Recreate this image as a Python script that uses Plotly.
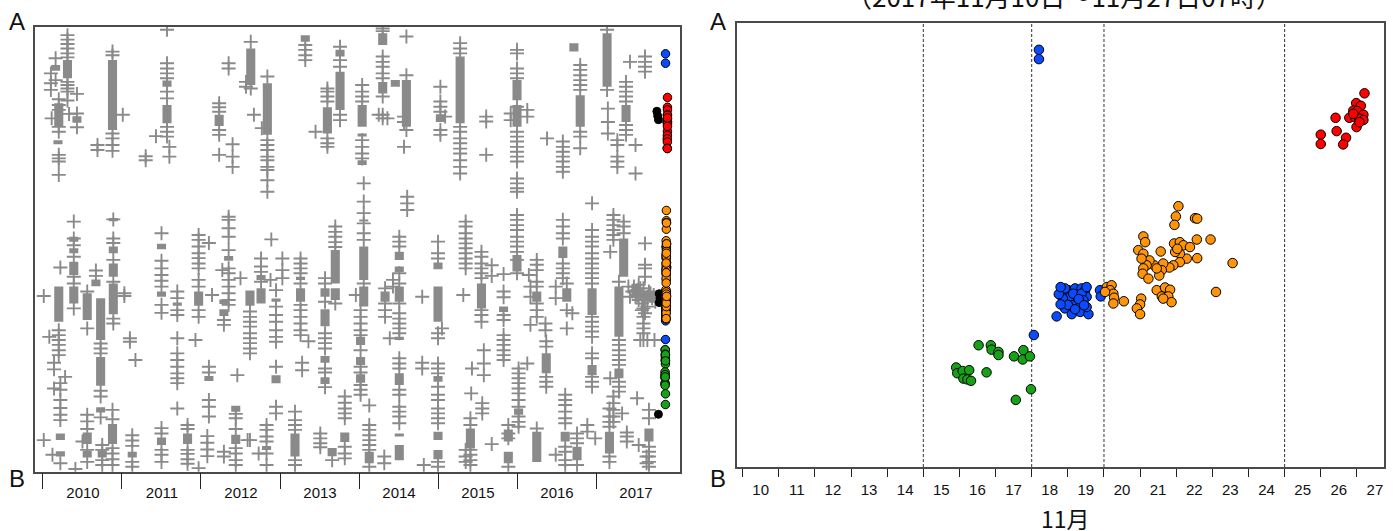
import plotly.graph_objects as go

# ---------------- Left panel: 2010-2017 (A-B level vs year) ----------------
year_ticks = [2010, 2011, 2012, 2013, 2014, 2015, 2016, 2017]
year_labels = ["2010", "2011", "2012", "2013", "2014", "2015", "2016", "2017"]

# gray "+" events: one entry per column (year) with the levels of its crosses
cross_year = [
    2010.16, 2010.10, 2010.31, 2010.43, 2010.20, 2010.11, 2010.33, 2010.88, 2011.01, 2010.69,
    2011.57, 2011.43, 2011.60, 2011.30, 2012.23, 2012.40, 2012.35, 2012.57,
    2010.39, 2010.22, 2010.20, 2010.01, 2010.08, 2010.14, 2010.28, 2010.22, 2010.12, 2010.41,
    2010.56, 2010.67, 2010.73, 2010.88, 2010.89, 2011.03, 2011.10, 2011.17, 2010.56, 2010.50,
    2010.75, 2010.88, 2011.13, 2011.50, 2011.70, 2011.83, 2011.97, 2011.93, 2012.10, 2012.08,
    2012.35, 2012.27, 2012.50, 2012.14, 2012.29, 2012.44, 2012.46, 2012.59,
    2012.63, 2012.62, 2012.84, 2012.77, 2012.67, 2012.76, 2012.89, 2013.03, 2012.95, 2012.88,
    2012.83, 2012.73, 2013.26, 2013.36, 2013.28, 2013.19, 2013.32, 2013.60, 2013.45, 2013.76,
    2013.57, 2013.70, 2013.51, 2013.66, 2013.82, 2014.04, 2014.06, 2014.02, 2013.96, 2014.13,
    2014.30, 2014.25, 2014.36, 2014.60, 2014.57, 2014.61, 2014.33, 2014.39, 2014.51, 2014.43,
    2014.32, 2014.80, 2015.00, 2015.05, 2014.82, 2015.03, 2015.09,
    2015.28, 2015.35, 2015.32, 2015.61, 2015.55, 2015.68, 2015.83, 2015.58, 2015.43, 2015.42,
    2015.56, 2015.41, 2016.00, 2015.92, 2016.13, 2016.02, 2015.89, 2016.25, 2016.17, 2016.36,
    2016.15, 2016.37, 2016.58, 2016.63, 2016.49, 2016.70, 2016.61, 2016.76, 2016.89, 2016.99,
    2016.80, 2016.38, 2016.95, 2017.14, 2017.15, 2017.27, 2017.38, 2017.43, 2017.62, 2017.50,
    2017.22, 2017.18, 2017.35, 2017.29, 2017.60, 2017.56, 2017.65, 2017.74, 2017.62, 2017.52,
    2017.33, 2017.17, 2017.39, 2017.67, 2017.54, 2017.64,
]
cross_levels = [
    [92.9, 88.0], [89.5, 87.3, 85.8], [98.1, 97.1, 96.1, 95.1, 94.0, 93.1, 87.6, 86.9, 86.1, 85.4, 83.4],
    [84.9, 80.5, 77.4], [83.7, 82.4, 81.3, 77.5, 76.4, 71.2, 70.4, 69.7, 66.7], [79.4], [80.4],
    [94.4, 93.6, 76.0, 74.9, 73.4, 72.1], [80.2], [73.4, 72.3],
    [99.3, 91.8, 90.6, 89.5, 88.4, 85.4, 83.9, 77.5, 76.4, 75.3], [75.4], [73.0, 70.8], [70.9, 70.0],
    [82.8, 81.9, 80.9, 76.8, 75.7, 71.2], [73.6, 70.8, 68.5], [91.8, 90.6], [87.6, 86.5],
    [56.2, 52.4, 50.9, 48.3, 43.8, 42.3, 36.7], [45.9], [31.8, 30.7, 29.6, 28.5, 27.3, 26.2],
    [39.5, 7.1], [30.3], [24.5, 23.0, 18.7], [21.3], [19.9, 18.4, 16.1, 14.3, 12.8, 11.6, 1.9], [3.8], [0.6],
    [40.5, 32.2], [45.2, 44.0], [28.8, 27.7, 26.6, 18.2, 16.9, 12.2], [13.9],
    [56.7, 52.4, 51.4, 47.6, 42.7, 34.4, 33.3], [40.1, 39.5], [30.0, 29.2], [25.1],
    [12.8, 11.3, 9.6, 4.9, 2.2], [6.8],
    [6.0, 4.9, 2.6, 1.5], [11.8, 5.3, 4.1, 2.8, 1.5], [8.2, 7.0, 5.8, 2.2, 1.1],
    [53.6, 47.4, 45.7, 44.2, 42.9, 41.6, 37.5, 35.7, 9.8, 8.6, 4.9, 3.8, 2.2],
    [40.5, 39.0, 36.3, 35.2, 30.0, 26.6, 25.1, 23.6, 22.1, 21.0, 19.9, 14.2],
    [10.5, 9.6, 4.9, 4.0, 2.8, 1.8],
    [0.8, 53.2, 52.1, 50.6, 49.1, 48.0, 46.8, 45.7, 43.1, 41.6, 36.3, 34.8], [29.6],
    [51.4, 23.6, 22.3, 16.1, 14.6, 12.4], [8.0, 6.5, 5.0, 3.5],
    [57.3, 56.6, 54.7, 52.8, 49.8, 45.7, 44.6, 43.1, 41.6, 40.1, 38.6, 37.5], [45.3], [43.5], [39.7],
    [34.1, 33.0, 4.5, 3.4], [13.0, 12.0, 9.6, 5.3, 4.1, 2.6, 1.5], [21.7], [7.1],
    [96.6, 86.1], [36.0, 34.8, 33.7, 32.6, 31.1, 30.0, 28.9, 27.7, 26.6, 7.1],
    [88.8, 74.5, 73.4, 72.3, 70.8, 70.0, 68.5, 67.8, 65.5, 62.9], [77.2], [80.2],
    [47.9, 46.1, 44.9, 42.7], [52.2], [47.9, 45.3, 43.5],
    [40.8, 37.1, 35.2, 33.7, 31.8, 30.3, 29.2, 23.6, 14.6, 13.1], [43.1],
    [10.5, 9.4, 7.9, 6.8, 4.1, 1.5], [4.1],
    [47.9, 46.8, 45.7, 44.6, 42.3, 37.5, 36.3, 34.8, 33.3, 31.8, 30.7], [29.3], [24.5, 22.8],
    [13.5, 11.6, 10.5, 9.4, 2.6, 1.5], [95.9, 94.8, 93.6, 92.5],
    [86.1, 85.4, 84.3, 83.2, 74.9, 73.8, 73.0], [76.4], [95.5, 92.5, 91.0, 80.2, 79.0],
    [43.5, 42.3, 38.2, 31.1, 30.0, 28.9, 27.7, 23.2, 22.3, 19.0],
    [55.1, 53.9, 52.8, 51.6, 50.5, 37.8], [8.6, 7.5, 6.4, 5.5], [2.6],
    [16.9, 15.5, 14.2, 13.1, 12.0, 5.6, 4.1, 3.0],
    [86.9, 85.4, 84.3, 83.2, 74.5, 73.0, 71.5, 70.4],
    [64.8, 60.7, 58.1, 55.8, 53.6, 52.1, 42.3],
    [36.3, 34.8, 33.3, 31.8, 30.7, 27.3, 23.6, 22.3, 19.5, 18.4, 17.3], [39.7],
    [14.9, 10.5, 9.4, 8.2, 7.1, 6.0, 4.9, 1.1],
    [99.6, 99.0, 93.3, 92.1, 91.0, 89.5, 88.4, 84.3, 80.2, 79.4], [80.2], [79.4],
    [97.8, 89.1, 76.8], [79.8, 78.6, 73.0], [61.8, 60.3, 58.8], [41.2, 37.8, 36.3, 34.8], [30.0],
    [52.8, 51.7, 50.6, 44.6, 42.3, 37.8, 35.6, 34.4, 33.3, 32.2, 31.1, 25.5, 24.3, 23.2, 18.4, 17.3,
     14.6, 13.5, 12.4, 10.9], [43.1, 41.6],
    [3.4, 1.9], [39.3, 24.5, 23.2],
    [51.7, 49.1, 47.9, 31.1, 30.0, 24.3, 23.2, 22.1, 19.1, 17.3, 16.1, 14.2, 13.1, 12.0, 10.9, 2.2, 1.1],
    [32.2], [1.5], [86.5, 83.2, 82.0, 80.9, 76.8, 75.7], [79.8],
    [96.3, 95.1, 94.0, 77.5, 76.4, 74.9, 73.8, 72.6, 71.5, 70.0, 68.5, 67.0],
    [56.2, 55.1, 53.6, 52.4, 51.3, 50.2, 49.1, 47.9, 46.8, 45.7, 4.9, 3.4, 2.2], [39.7],
    [79.8, 78.7, 71.2], [49.4, 48.3, 46.8, 45.7, 44.6, 43.5, 36.3, 35.2, 33.7], [46.4, 44.0, 6.2],
    [44.4, 40.5, 39.2, 35.2, 34.1, 30.7, 29.6, 28.5, 27.3, 26.2, 25.1], [27.3, 24.3, 21.7], [23.2], [17.6],
    [15.4, 14.2, 13.1], [12.0, 10.5, 4.9, 3.8, 2.6, 1.5],
    [94.8, 94.0, 90.6, 89.5, 88.4, 82.0, 76.4, 75.3, 74.2, 73.0, 71.9, 70.8, 69.7, 65.9, 64.8, 63.7,
     62.9, 57.7, 56.6, 55.4, 54.3, 52.8, 51.7, 50.6, 49.4, 47.6, 44.6],
    [80.5, 79.0], [81.3, 79.8, 24.3],
    [23.2, 22.1, 21.0, 19.9, 18.7, 17.6, 16.1, 14.6, 12.4, 11.2, 10.1], [10.5, 8.6, 7.5, 1.1],
    [47.6, 46.5, 45.3, 42.7, 41.6, 37.8, 36.3, 34.8, 9.7], [41.6, 39.3, 33.0], [33.3, 31.8],
    [44.2], [29.3, 28.1, 21.3, 20.2, 19.1],
    [74.2, 73.0, 71.9, 70.8, 69.7, 68.5, 67.4, 56.6, 55.1, 53.6, 52.4, 46.8, 45.7, 44.6, 43.5],
    [42.3, 36.3, 32.2], [41.6, 39.0, 3.8], [35.6],
    [17.3, 16.1, 15.0, 13.5, 12.0, 10.9, 5.6, 4.5, 2.6, 1.5], [8.6, 7.5, 6.4, 1.5], [10.5, 9.0], [7.5],
    [91.4, 90.3, 89.1, 88.0, 86.9, 85.8, 76.4, 75.3, 72.7], [74.9],
    [60.3, 54.3, 52.8, 51.7, 50.6, 49.1, 47.9, 46.8, 45.7, 44.6, 43.5, 42.3, 34.8, 33.7, 32.6, 31.5,
     30.3, 26.6, 25.5, 21.3, 20.2, 19.1],
    [99.3, 85.8], [81.6, 78.6, 76.0], [74.5, 73.4, 70.8, 69.7, 68.5],
    [87.6, 86.5, 85.4, 84.3, 83.2, 77.9, 76.8, 75.7], [92.1], [93.3, 92.1, 91.0, 89.9], [73.4, 67.0],
    [57.7, 56.6, 55.4, 54.3, 53.2, 52.1, 16.9, 15.4, 13.9, 12.4, 11.2], [49.4, 21.0], [56.2, 55.1, 53.6],
    [42.7, 29.6, 28.5, 27.3, 26.2, 25.1, 24.0, 20.2, 19.1, 18.0],
    [34.8, 33.3, 32.2, 31.1, 29.6], [29.6], [29.6], [29.6], [51.3, 46.5, 45.7, 43.8], [16.5],
    [13.1], [14.2, 12.4, 11.2, 10.1, 3.4, 2.2], [8.8, 7.9, 6.8], [13.9, 12.0, 5.6, 4.5, 3.4, 2.2, 1.1],
    [6.0], [3.4, 1.9],
]

# dense cloud of events just before the 2017 swarm
cloud_year = [2017.41, 2017.46, 2017.52, 2017.56, 2017.60, 2017.65, 2017.71, 2017.50, 2017.54, 2017.58,
              2017.62, 2017.69, 2017.43, 2017.48, 2017.54, 2017.60, 2017.67, 2017.73, 2017.75, 2017.58,
              2017.62, 2017.60, 2017.65, 2017.52, 2017.56, 2017.50]
cloud_level = [41.6, 40.5, 40.8, 40.1, 39.7, 39.3, 39.0, 39.3, 38.6, 37.8,
               38.6, 40.1, 39.3, 41.6, 42.0, 41.2, 40.5, 39.7, 38.2, 36.3,
               35.6, 36.7, 37.1, 39.7, 41.2, 40.5]

# solid stretches of overlapping "+" marks (year, lower level, upper level)
block_year = [
    2010.16, 2010.31, 2010.43, 2010.20, 2010.19, 2010.88, 2011.57, 2011.57, 2012.23,
    2010.39, 2010.39, 2010.39, 2010.39, 2010.20, 2010.22, 2010.22, 2010.56, 2010.67,
    2010.73, 2010.73, 2010.73, 2010.89, 2010.89, 2010.89, 2010.89, 2010.56, 2010.56,
    2010.75, 2010.88, 2011.13, 2011.50, 2011.50, 2011.50, 2011.70, 2011.83, 2011.97,
    2012.10, 2012.35, 2012.29, 2012.29, 2012.44, 2012.44,
    2012.63, 2012.62, 2012.84, 2012.76, 2012.76, 2012.95, 2012.95, 2012.83, 2013.26, 2013.26,
    2013.19, 2013.32, 2013.60, 2013.76, 2013.76, 2013.57, 2013.57, 2013.57, 2013.57, 2013.70,
    2013.70, 2013.66, 2013.82, 2014.04, 2014.04, 2014.04, 2014.06, 2014.06, 2014.06, 2014.02,
    2014.02, 2014.02, 2014.13, 2014.30, 2014.30, 2014.46, 2014.60, 2014.33,
    2014.51, 2014.51, 2014.51, 2014.51, 2014.51, 2014.51, 2014.51,
    2015.00, 2015.00, 2015.00, 2015.00, 2015.00, 2015.03,
    2015.28, 2015.55, 2015.83, 2015.41, 2016.00, 2016.00, 2016.00, 2016.02, 2015.89, 2015.89,
    2016.25, 2016.25, 2016.37, 2016.58, 2016.63, 2016.61, 2016.76, 2016.72, 2016.80, 2016.95,
    2016.95, 2017.14, 2017.38, 2017.35, 2017.29, 2017.29, 2017.17, 2017.67,
]
block_low = [
    90.1, 88.4, 78.4, 77.5, 73.6, 76.8, 86.5, 78.3, 77.7,
    51.7, 49.1, 44.2, 37.8, 33.7, 7.1, 3.4, 34.1, 41.7,
    29.6, 19.3, 13.3, 56.3, 49.1, 43.8, 35.4, 6.2, 3.2,
    3.2, 6.2, 3.2, 50.0, 39.3, 6.0, 37.3, 6.2, 37.3,
    20.4, 47.4, 37.7, 35.0, 13.5, 6.2,
    86.9, 37.3, 75.7, 43.1, 37.8, 38.2, 19.9, 4.9, 43.1, 38.2,
    3.4, 96.6, 76.0, 93.3, 81.3, 39.3, 32.7, 24.5, 19.7, 42.3,
    38.6, 3.5, 6.7, 77.5, 75.3, 68.9, 56.2, 43.1, 37.1, 28.5,
    24.0, 20.0, 1.9, 95.9, 85.0, 86.5, 77.5, 38.2,
    47.6, 44.9, 38.2, 29.6, 19.5, 7.9, 2.6,
    45.5, 33.7, 20.2, 7.1, 2.8, 78.6,
    78.3, 36.7, 35.9, 5.2, 83.5, 77.5, 45.0, 12.8, 6.8, 1.9,
    38.2, 2.2, 22.1, 48.0, 38.2, 6.8, 2.6, 94.4, 77.5, 35.2,
    21.7, 86.5, 78.6, 43.8, 30.3, 21.0, 4.1, 6.8,
]
block_high = [
    91.4, 92.5, 79.9, 82.8, 74.5, 92.5, 87.9, 82.4, 80.2,
    52.8, 50.2, 47.2, 41.6, 41.6, 8.6, 4.6, 40.1, 43.2,
    39.0, 25.8, 14.5, 57.0, 50.6, 46.8, 42.3, 8.8, 4.7,
    4.8, 10.7, 4.5, 51.2, 40.5, 7.7, 38.0, 8.6, 40.5,
    21.5, 48.5, 38.7, 36.5, 14.8, 8.3,
    95.1, 40.7, 87.3, 44.2, 41.2, 38.9, 21.7, 5.8, 43.8, 41.2,
    8.6, 98.1, 81.9, 94.8, 89.9, 41.2, 36.5, 26.0, 21.2, 49.8,
    41.2, 5.3, 8.8, 82.4, 76.0, 70.0, 56.7, 50.6, 41.6, 30.3,
    25.8, 21.9, 4.5, 98.5, 87.6, 88.0, 88.0, 40.5,
    49.4, 46.1, 41.6, 30.3, 22.1, 8.6, 6.0,
    47.0, 41.6, 21.5, 9.0, 4.9, 80.3,
    93.3, 42.3, 37.1, 9.7, 88.0, 82.4, 48.7, 14.2, 9.5, 4.5,
    40.5, 9.0, 26.6, 50.6, 41.2, 9.0, 5.6, 96.3, 84.6, 41.2,
    24.0, 98.5, 82.4, 52.4, 41.6, 23.2, 9.0, 9.7,
]

# black events near the end of 2017 (before the plotted period)
black_year = [2017.77, 2017.78, 2017.79, 2017.80, 2017.81, 2017.80, 2017.79, 2017.89, 2017.89]
black_level = [81.0, 80.0, 79.1, 40.0, 39.0, 38.0, 12.9, 40.4, 39.6]

# ---------------- Right panel: 2017-11-10 .. 11-27 07h ----------------
day_ticks = [10, 11, 12, 13, 14, 15, 16, 17, 18, 19, 20, 21, 22, 23, 24, 25, 26, 27]
day_labels = ["10", "11", "12", "13", "14", "15", "16", "17", "18", "19",
              "20", "21", "22", "23", "24", "25", "26", "27"]
boundary_days = [15, 18, 20, 25]

green_day = [16.53, 16.87, 16.89, 17.08, 17.08, 17.51, 17.77, 17.75, 17.95, 15.91,
             15.94, 16.09, 16.27, 16.11, 16.22, 16.32, 16.75, 17.98, 17.56]
green_level = [27.4, 27.4, 26.4, 25.9, 25.2, 24.9, 26.3, 24.2, 24.9, 22.4,
               21.1, 21.6, 21.8, 19.9, 19.7, 19.4, 21.3, 17.5, 15.1]

blue_day = [18.20, 18.20, 18.06, 18.69, 18.92, 19.11, 19.34, 19.57, 19.52, 19.29,
            18.97, 18.87, 19.01, 19.20, 19.38, 19.48, 19.52, 19.25, 19.06, 18.92,
            19.15, 19.38, 18.86, 19.11, 19.43, 19.52, 19.89, 19.91, 18.75, 18.80,
            19.00, 19.30, 19.45, 18.80, 19.20]
blue_level = [93.9, 91.8, 29.7, 33.9, 35.7, 34.4, 34.9, 34.4, 36.0, 36.8,
              37.5, 39.0, 39.8, 40.2, 40.2, 39.8, 38.3, 38.3, 38.3, 40.2,
              39.0, 39.0, 37.9, 36.4, 37.5, 40.5, 39.8, 38.4, 38.9, 40.5,
              36.5, 37.8, 36.4, 36.6, 35.5]

orange_day = [20.08, 20.21, 20.17, 20.26, 20.28, 20.26, 20.03, 20.55, 21.03, 21.00,
              20.91, 21.00, 21.46, 21.60, 21.69, 21.83, 21.78, 21.87, 21.64, 23.10,
              23.56, 22.06, 21.99, 21.95, 22.52, 22.58, 21.09, 21.14, 20.95, 21.09,
              21.57, 21.94, 22.10, 22.20, 22.57, 22.95, 22.38, 22.29, 22.58, 22.10,
              21.97, 22.10, 21.92, 21.81, 21.64, 21.60, 21.53, 21.39, 21.26, 21.18,
              21.09, 21.07, 21.23, 21.46, 21.04, 22.03]
orange_level = [40.5, 40.9, 39.8, 39.0, 38.1, 36.8, 39.4, 37.3, 37.9, 36.6,
                35.7, 34.4, 39.8, 38.4, 40.4, 39.9, 38.4, 37.1, 37.9, 39.4,
                45.9, 58.7, 56.4, 54.5, 56.0, 55.9, 51.9, 50.6, 48.8, 48.0,
                48.5, 50.3, 50.6, 49.9, 51.2, 51.2, 49.5, 46.9, 47.0, 48.0,
                48.4, 46.1, 45.4, 44.9, 45.8, 44.3, 43.1, 45.4, 46.5, 45.4,
                44.7, 43.5, 42.4, 44.7, 46.9, 49.1]

red_day = [27.21, 26.98, 27.11, 26.90, 27.01, 27.18, 26.41, 26.79, 26.95, 27.07,
           27.18, 26.99, 26.44, 26.00, 26.70, 26.00, 26.62, 27.07, 26.90]
red_level = [84.1, 81.9, 81.3, 80.2, 80.1, 79.3, 78.6, 78.6, 78.7, 78.4,
             78.1, 76.5, 75.6, 74.8, 74.1, 72.7, 72.6, 77.6, 79.5]

GRAY = "#8a8a8a"
FRAME = "#4a4a4a"
COLORS = {"green": "#17a117", "blue": "#0a4bff", "orange": "#ff9408", "red": "#ff0000"}

fig = go.Figure()

# left: solid stretches
fig.add_trace(go.Bar(
    x=block_year, base=block_low, y=[h - l for l, h in zip(block_low, block_high)],
    width=0.115, marker=dict(color=GRAY, line=dict(width=0)),
    xaxis="x", yaxis="y", showlegend=False, hoverinfo="skip"))

cx, cy = [], []
for yr, levels in zip(cross_year, cross_levels):
    for lv in levels:
        cx.append(yr)
        cy.append(lv)
cx += cloud_year
cy += cloud_level
fig.add_trace(go.Scatter(
    x=cx, y=cy, mode="markers", xaxis="x", yaxis="y", showlegend=False,
    marker=dict(symbol="cross-thin", size=10, line=dict(color=GRAY, width=1.9))))

fig.add_trace(go.Scatter(
    x=black_year, y=black_level, mode="markers", xaxis="x", yaxis="y", showlegend=False,
    marker=dict(size=8, color="black", line=dict(color="black", width=1))))


def to_year(days):
    return [2017 + (303 + d) / 365 for d in days]


series = [("green", green_day, green_level), ("blue", blue_day, blue_level),
          ("orange", orange_day, orange_level), ("red", red_day, red_level)]
for name, days, levels in series:
    fig.add_trace(go.Scatter(
        x=to_year(days), y=levels, mode="markers", xaxis="x", yaxis="y", showlegend=False,
        marker=dict(size=8.5, color=COLORS[name], line=dict(color="black", width=1))))

for name, days, levels in series:
    fig.add_trace(go.Scatter(
        x=days, y=levels, mode="markers", xaxis="x2", yaxis="y2", showlegend=False,
        marker=dict(size=9.5, color=COLORS[name], line=dict(color="black", width=1))))

for d in boundary_days:
    fig.add_shape(type="line", xref="x2", yref="y2 domain", x0=d, x1=d, y0=0, y1=1,
                  line=dict(color="#333333", width=1, dash="3px,2px"), layer="below")

tick_font = dict(family="Liberation Sans Narrow, Liberation Sans, Arial", size=15, color="#111")
axis_common = dict(showgrid=False, zeroline=False, showline=True, mirror=True,
                   linecolor=FRAME, linewidth=1.5)

fig.update_layout(
    width=1399, height=531,
    margin=dict(l=0, r=0, t=0, b=0),
    paper_bgcolor="white", plot_bgcolor="white",
    barmode="overlay", showlegend=False,
    xaxis=dict(domain=[35 / 1399, 680 / 1399], range=[2009.899, 2018.063], anchor="y",
               tickmode="array", tickvals=year_ticks, ticktext=year_labels,
               ticks="outside", ticklen=16, tickwidth=1, tickcolor="#222",
               ticklabelshift=40, ticklabelstandoff=-9, tickfont=tick_font, **axis_common),
    yaxis=dict(domain=[(531 - 471.7) / 531, (531 - 26.7) / 531], range=[0, 100], anchor="x",
               showticklabels=False, ticks="", **axis_common),
    xaxis2=dict(domain=[737 / 1399, 1384 / 1399], range=[9.844, 27.75], anchor="y2",
                tickmode="array", tickvals=day_ticks, ticktext=day_labels,
                ticks="outside", ticklen=8, tickwidth=1, tickcolor="#222",
                ticklabelshift=18, ticklabelstandoff=0, tickfont=tick_font, **axis_common),
    yaxis2=dict(domain=[(531 - 467) / 531, (531 - 22.7) / 531], range=[0, 100], anchor="x2",
                showticklabels=False, ticks="", **axis_common),
)

label_font = dict(family="Liberation Sans, Arial", size=24, color="#111")
for xp in (17, 718):
    fig.add_annotation(text="A", x=xp / 1399, y=(531 - 22) / 531, xref="paper", yref="paper",
                       showarrow=False, font=label_font, xanchor="center", yanchor="middle")
    fig.add_annotation(text="B", x=xp / 1399, y=(531 - 478) / 531, xref="paper", yref="paper",
                       showarrow=False, font=label_font, xanchor="center", yanchor="middle")

fig.add_annotation(text="（2017年11月10日～11月27日07時）", x=1064 / 1399, y=1 + 4 / 531,
                   xref="paper", yref="paper", showarrow=False, xanchor="center", yanchor="middle",
                   font=dict(family="Noto Sans CJK JP", size=26, color="#111"))
fig.add_annotation(text="11月", x=1065 / 1399, y=(531 - 518) / 531, xref="paper", yref="paper",
                   showarrow=False, xanchor="center", yanchor="middle",
                   font=dict(family="Noto Sans CJK JP", size=23, color="#111"))

fig.write_html("out.html", config={"displayModeBar": False},
               post_script="document.body.style.margin='0';")
